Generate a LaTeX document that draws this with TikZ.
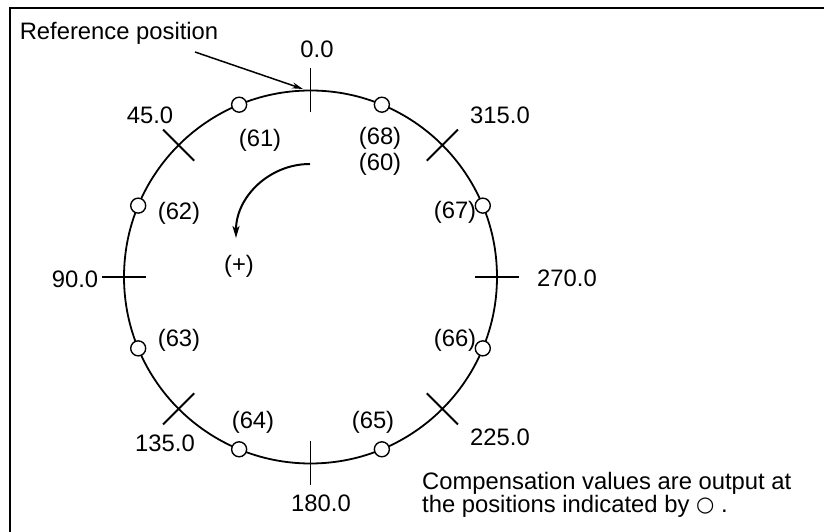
\documentclass[tikz,border=0pt]{standalone}
\usepackage{fontspec}
\setmainfont{Liberation Sans}
\newfontfamily\symfont{DejaVu Sans}
\usetikzlibrary{arrows.meta}
\begin{document}
\begin{tikzpicture}[x=1pt,y=1pt,
  lbl/.style={inner sep=0pt, font=\fontsize{23.8}{26}\selectfont},
  ring/.style={line width=1.8pt},
  tickline/.style={line width=1.8pt},
  dotc/.style={line width=1.4pt, fill=white},
  frame/.style={line width=2pt},
  pointer/.style={line width=1.5pt, -{Stealth[length=11pt,width=6pt]}},
  turn/.style={line width=2pt, -{Stealth[length=12pt,width=7pt,inset=3pt]}}
]
\useasboundingbox (0,0) rectangle (824,532);
\draw[frame] (10,0) -- (10,524) -- (824,524);
\coordinate (O) at (310.5,255);
\draw[ring] (O) circle[radius=186.5];
\foreach \a in {0,45,...,315} {
  \draw[tickline, shift={(O)}] (90+\a:164.5) -- (90+\a:208.5);
}
\foreach \a in {22.5,67.5,...,337.5} {
  \draw[dotc, shift={(O)}] (90+\a:186.5) circle[radius=7.5];
}
% reference position
\node[lbl] (ref) at (119,499) {Reference position};
\coordinate (refstart) at (195,480);
\coordinate (reftip) at (303,443);
\draw[pointer] (refstart) -- (reftip);
% angle labels
\node[lbl] (a0) at (317,483) {0.0};
\node[lbl] (a45) at (150,417) {45.0};
\node[lbl] (a90) at (75,253) {90.0};
\node[lbl] (a135) at (165,89) {135.0};
\node[lbl] (a180) at (321,29) {180.0};
\node[lbl] (a225) at (500,95) {225.0};
\node[lbl] (a270) at (567,254) {270.0};
\node[lbl] (a315) at (500,417) {315.0};
% numbers
\node[lbl] (n61) at (260,392) {(61)};
\node[lbl] (n68) at (380,394) {(68)};
\node[lbl] (n60) at (380,368) {(60)};
\node[lbl] (n62) at (179,319) {(62)};
\node[lbl] (n67) at (455,320) {(67)};
\node[lbl] (n63) at (179,192) {(63)};
\node[lbl] (n66) at (455,192) {(66)};
\node[lbl] (n64) at (253,110) {(64)};
\node[lbl] (n65) at (373,110) {(65)};
% direction
\coordinate (turnstart) at (310,368);
\draw[turn] (turnstart) arc[start angle=90, end angle=180, radius=74];
\node[lbl] (plus) at (239,266) {(+)};
% note
\node[lbl, anchor=base west] (note1) at (422,42) {Compensation values are output at};
\node[lbl, anchor=base west] (note2) at (422,19) {the positions indicated by \raisebox{1pt}{\symfont\fontsize{21}{24}\selectfont ○} .};
\end{tikzpicture}
\end{document}
